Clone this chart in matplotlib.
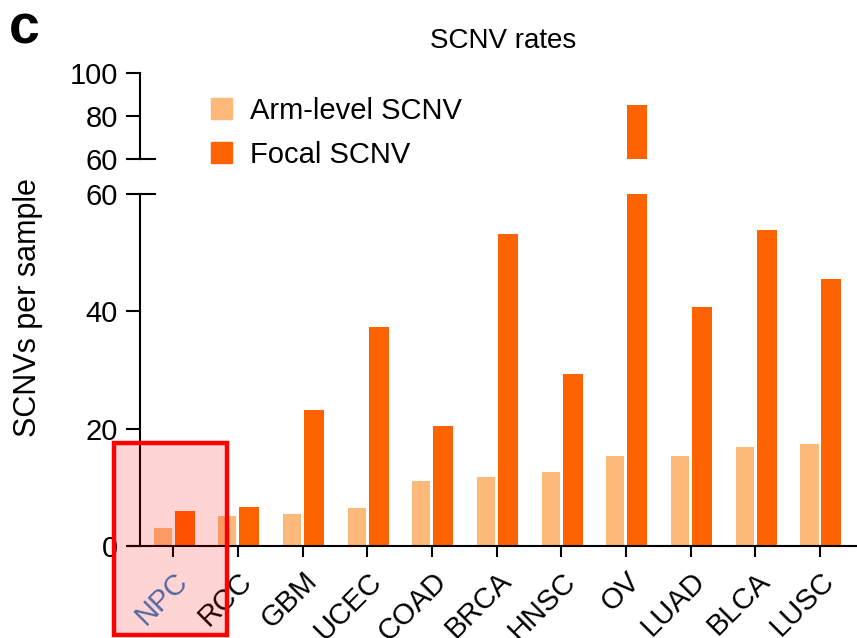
import numpy as np
import matplotlib
matplotlib.use("Agg")
import matplotlib.pyplot as plt
from matplotlib.patches import Rectangle

plt.rcParams['font.family'] = ['Liberation Sans', 'DejaVu Sans']

# data
cancers = ['NPC', 'RCC', 'GBM', 'UCEC', 'COAD', 'BRCA', 'HNSC', 'OV', 'LUAD', 'BLCA', 'LUSC']
arm_level = [3.1, 5.1, 5.5, 6.5, 11.1, 11.8, 12.6, 15.4, 15.4, 16.9, 17.4]
focal = [6.0, 6.7, 23.1, 37.3, 20.5, 53.2, 29.4, 85.0, 40.7, 53.8, 45.5]
low_ticks = [0, 20, 40, 60]
high_ticks = [60, 80, 100]

ARM_COL = '#fdb97a'
FOCAL_COL = '#ff6200'
FS = 21

W, H = 857, 638
fig = plt.figure(figsize=(W / 100, H / 100), dpi=100)

def px_box(x0, y0, x1, y1):
  # pixel box (top-left origin) -> figure fraction [left, bottom, width, height]
  return [x0 / W, 1 - y1 / H, (x1 - x0) / W, (y1 - y0) / H]

ax_lo = fig.add_axes(px_box(128, 194, 857, 546))
ax_hi = fig.add_axes(px_box(128, 73, 857, 159))

x = np.arange(len(cancers))
xlim = (-0.70, 10.57)
spine_x = -0.51

for ax in (ax_lo, ax_hi):
  ax.bar(x - 0.165, arm_level, width=0.28, color=ARM_COL, zorder=2)
  ax.bar(x + 0.175, focal, width=0.31, color=FOCAL_COL, zorder=2)
  ax.set_xlim(*xlim)
  ax.spines['top'].set_visible(False)
  ax.spines['right'].set_visible(False)
  ax.spines['left'].set_position(('data', spine_x))
  ax.spines['left'].set_linewidth(1.5)
  ax.tick_params(axis='y', direction='out', length=10, width=1.5, labelsize=FS, pad=6)
  ax.patch.set_visible(False)

ax_lo.set_ylim(0, 60)
ax_lo.set_yticks(low_ticks)
ax_lo.spines['bottom'].set_linewidth(1.5)
ax_lo.set_xticks(x)
ax_lo.set_xticklabels(cancers, rotation=45, ha='right', rotation_mode='anchor', fontsize=FS)
ax_lo.tick_params(axis='x', direction='out', length=8, width=1.5, pad=7)
ax_lo.get_xticklabels()[0].set_color('#2f7fc4')

ax_hi.set_ylim(60, 100)
ax_hi.set_yticks(high_ticks)
ax_hi.spines['bottom'].set_visible(False)
ax_hi.set_xticks([])

# break marks: short lines to the right of the spine at 60
ax_lo.plot([spine_x, spine_x + 0.22], [60, 60], color='black', lw=1.5, clip_on=False)
ax_hi.plot([spine_x, spine_x + 0.22], [60, 60], color='black', lw=1.5, clip_on=False)

ax_lo.set_ylabel('SCNVs per sample', fontsize=22)
ax_lo.yaxis.set_label_coords(-0.117, 0.676)

fig.text(503 / W, 1 - 41 / H, 'SCNV rates', fontsize=20, ha='center', va='center')
fig.text(9 / W, 1 - 29 / H, 'c', fontsize=40, fontweight='bold', ha='left', va='center')

h1 = Rectangle((0, 0), 1, 1, color=ARM_COL)
h2 = Rectangle((0, 0), 1, 1, color=FOCAL_COL)
fig.legend([h1, h2], ['Arm-level SCNV', 'Focal SCNV'], loc='upper left',
           bbox_to_anchor=(211 / W, 1 - 97 / H), frameon=False, fontsize=FS,
           handlelength=0.72, handleheight=0.72, handletextpad=0.6,
           labelspacing=0.55, borderpad=0, borderaxespad=0)

# red highlight box around NPC
fig.add_artist(Rectangle((114 / W, 3 / H), 113 / W, (H - 446) / H, transform=fig.transFigure,
                         facecolor=(1, 0, 0, 0.17), edgecolor='#ff0000', lw=3.2, zorder=10))

fig.savefig('out.png', dpi=100)
